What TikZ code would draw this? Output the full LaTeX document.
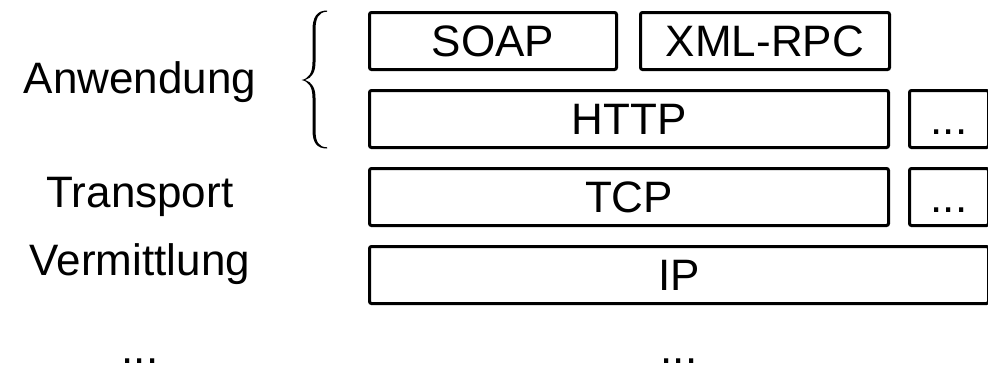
\documentclass[tikz,border=0pt]{standalone}
\usepackage{fontspec}
\setmainfont{Liberation Sans}
\begin{document}
\begin{tikzpicture}[x=1pt,y=-1pt,
  big/.style={font=\fontsize{44}{50}\selectfont},
  layer/.style={big, draw, line width=3pt, rounded corners=2pt, inner sep=0pt,
    minimum height=57pt, text height=31.5pt, text depth=0pt},
  lbl/.style={big, anchor=base, inner sep=0pt}]
\useasboundingbox (0,0) rectangle (988,372);
\clip (0,0) rectangle (988,372);

% protocol stack
\node[layer, minimum width=247pt] (soap)   at (493,41)  {SOAP};
\node[layer, minimum width=249pt] (xmlrpc) at (765,41)  {XML-RPC};
\node[layer, minimum width=519pt] (http)   at (629,119) {HTTP};
\node[layer, minimum width=79pt]  (more1)  at (949,119) {...};
\node[layer, minimum width=519pt] (tcp)    at (629,197) {TCP};
\node[layer, minimum width=79pt]  (more2)  at (949,197) {...};
\node[layer, minimum width=619pt] (ip)     at (679,275) {IP};
\node[lbl] (more3) at (679,363) {...};

% layer names
\node[lbl] (app)   at (140,93)  {Anwendung};
\node[lbl] (trans) at (140,207) {Transport};
\node[lbl] (net)   at (140,275) {Vermittlung};
\node[lbl] (more4) at (140,363) {...};

% curly brace grouping the application layer (tapered outline)
\fill (327,10.5) .. controls (317,10.5) and (312.5,17) .. (312.5,30)
  -- (312.5,62) .. controls (312.5,73) and (309,78.5) .. (301.5,80)
  .. controls (309,81.5) and (312.5,87) .. (312.5,98)
  -- (312.5,130) .. controls (312.5,143) and (317,148.5) .. (327,148.5)
  -- (327,147.3) .. controls (318.5,147) and (315.5,142) .. (315.5,130)
  -- (315.5,98) .. controls (315.5,88) and (312,82) .. (305,80)
  .. controls (312,78) and (315.5,72) .. (315.5,62)
  -- (315.5,30) .. controls (315.5,18) and (318.5,12) .. (327,11.7) -- cycle;
\end{tikzpicture}
\end{document}
